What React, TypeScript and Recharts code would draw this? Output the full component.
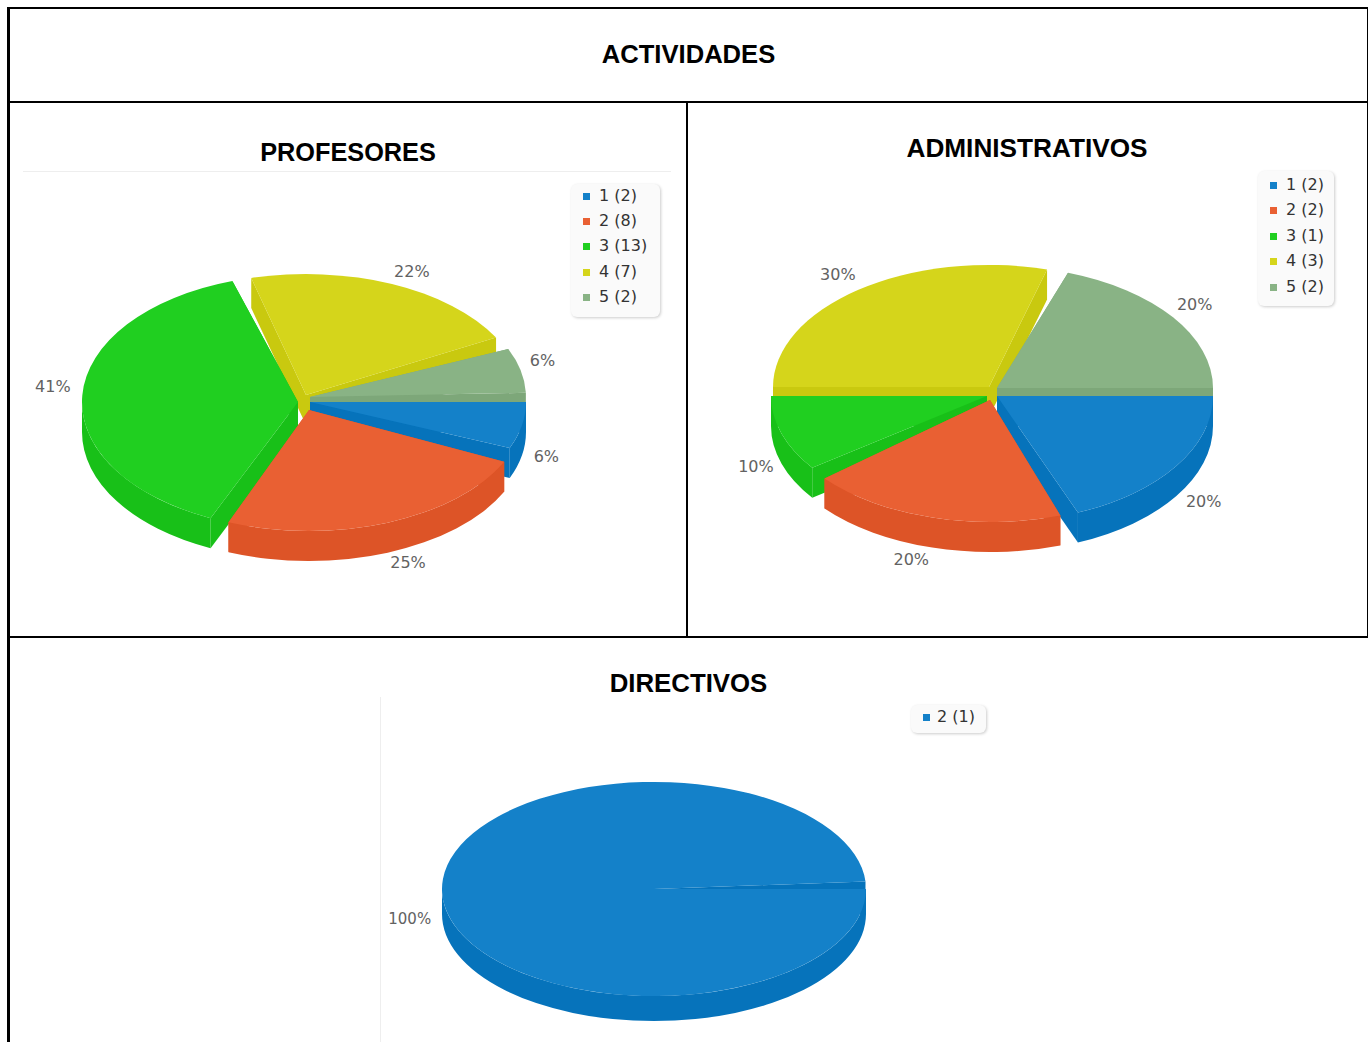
import React from "react";
import { PieChart, Pie, Legend } from "recharts";

const FONT = "'DejaVu Sans', sans-serif";
const TITLE_FONT = "'Liberation Sans', Arial, sans-serif";

const profNames = ["1", "2", "3", "4", "5"];
const profValues = [2, 8, 13, 7, 2];
const adminNames = ["1", "2", "3", "4", "5"];
const adminValues = [2, 2, 1, 3, 2];
const dirNames = ["2"];
const dirValues = [1];

const topColors = ["#1481c9", "#e96033", "#20cf20", "#d5d51b", "#89b385"];
const sideColors = ["#0673bb", "#dd5427", "#18c018", "#c9c90f", "#7da779"];
const sideGroups = [[3, 4], [2], [0, 1]];

type Cfg = {
  left: number; top: number; width: number; height: number;
  pageCx: number; pageCy: number; rx: number; ratio: number; depth: number; endAngle: number;
  offsets: number[][]; nudges: number[][]; angleTweaks: number[][]; ryScale: number[];
  names: string[]; values: number[];
  legend: { left: number; top: number; width: number; height: number; rowGap: number; padTop: number };
};

const panels: Cfg[] = [
  {
    left: 10, top: 103, width: 676, height: 532,
    pageCx: 310, pageCy: 402, rx: 216, ratio: 0.56, depth: 30, endAngle: -358,
    offsets: [[0, 0], [-1, 8], [-12, 0], [-4, -7], [0, -5]],
    nudges: [[-1, 13], [5, 13], [-4, -20], [-2, -17], [-3, -21]],
    angleTweaks: [[0, 0], [3, 0], [2, -5], [-2, -4], [1, 0]],
    ryScale: [1, 1, 1.05, 1, 1],
    names: profNames, values: profValues,
    legend: { left: 571, top: 184, width: 89, height: 133, rowGap: 25.2, padTop: 1 },
  },
  {
    left: 688, top: 103, width: 678, height: 532,
    pageCx: 997, pageCy: 398, rx: 216, ratio: 0.565, depth: 30, endAngle: -360,
    offsets: [[0, -2], [-7, 2], [-10, -2], [-8, -11], [0, -10]],
    nudges: [[11, 10], [-4, 15], [-1, 13], [-9, -17], [2, -18]],
    angleTweaks: [[0, -4], [-1, -4], [0, 0], [0, -2.4], [1.2, 0]],
    ryScale: [1.03, 1, 1, 1, 1],
    names: adminNames, values: adminValues,
    legend: { left: 1258, top: 171, width: 76, height: 135, rowGap: 25.4, padTop: 3 },
  },
  {
    left: 10, top: 638, width: 1356, height: 404,
    pageCx: 654, pageCy: 889, rx: 212, ratio: 0.505, depth: 25, endAngle: -356,
    offsets: [[0, 0]],
    nudges: [[-7, 13]],
    angleTweaks: [[0, 0]],
    ryScale: [1],
    names: dirNames, values: dirValues,
    legend: { left: 911, top: 705, width: 75, height: 28, rowGap: 25, padTop: 1 },
  },
];

const rad = (a: number) => (a * Math.PI) / 180;

function geometry(p: any, cfg: Cfg) {
  const i: number = p.index ?? 0;
  const off = cfg.offsets[i] || [0, 0];
  const tw = cfg.angleTweaks[i] || [0, 0];
  const cx = p.cx + off[0];
  const cy = p.cy + off[1];
  const rx = p.outerRadius;
  const ry = rx * cfg.ratio * (cfg.ryScale[i] ?? 1);
  const rawS = Math.min(-p.startAngle, -p.endAngle);
  const rawE = Math.max(-p.startAngle, -p.endAngle);
  const s = rawS + tw[0];
  const e = rawE + tw[1];
  const pt = (t: number, d = 0) => [cx + rx * Math.cos(rad(t)), cy + ry * Math.sin(rad(t)) + d];
  return { i, cx, cy, rx, ry, s, e, rawS, rawE, pt };
}

function makeSideShape(cfg: Cfg, group: number[]) {
  return (p: any) => {
    const { i, cx, cy, rx, ry, s, e, pt } = geometry(p, cfg);
    if (!group.includes(i)) return <g />;
    const d = cfg.depth;
    const fill = sideColors[i];
    const wall = (t: number) => {
      const q = pt(t);
      return `M${cx},${cy}L${q[0]},${q[1]}L${q[0]},${q[1] + d}L${cx},${cy + d}Z`;
    };
    const a = Math.max(s, 0);
    const b = Math.min(e, 180);
    let rim = "";
    if (b > a) {
      const p1 = pt(a);
      const p2 = pt(b);
      rim = `M${p1[0]},${p1[1]}A${rx},${ry} 0 0 1 ${p2[0]},${p2[1]}L${p2[0]},${p2[1] + d}A${rx},${ry} 0 0 0 ${p1[0]},${p1[1] + d}Z`;
    }
    return (
      <g>
        <path d={wall(s)} fill={fill} />
        <path d={wall(e)} fill={fill} />
        {rim ? <path d={rim} fill={fill} /> : null}
      </g>
    );
  };
}

function makeTopShape(cfg: Cfg) {
  return (p: any) => {
    const { i, cx, cy, rx, ry, s, e, pt } = geometry(p, cfg);
    const p1 = pt(s);
    const p2 = pt(e);
    const large = e - s > 180 ? 1 : 0;
    return (
      <path
        d={`M${cx},${cy}L${p1[0]},${p1[1]}A${rx},${ry} 0 ${large} 1 ${p2[0]},${p2[1]}Z`}
        fill={topColors[i]}
      />
    );
  };
}

function makeLabel(cfg: Cfg) {
  return (p: any) => {
    const { i, cx, cy, rx, rawS, rawE } = geometry(p, cfg);
    const ry = rx * cfg.ratio;
    const m = (rawS + rawE) / 2;
    const n = cfg.nudges[i] || [0, 0];
    const x = cx + 1.12 * rx * Math.cos(rad(m)) + n[0];
    const y = cy + 1.12 * ry * Math.sin(rad(m)) + cfg.depth / 2 + n[1];
    const total = cfg.values.reduce((acc, v) => acc + v, 0);
    const pct = Math.round((cfg.values[i] / total) * 100);
    return (
      <text x={x} y={y} textAnchor="middle" dominantBaseline="central" fontFamily={FONT} fontSize={pct === 100 ? 15 : 16} fill="#626262">
        {pct}%
      </text>
    );
  };
}

function LegendBox({ cfg }: { cfg: Cfg }) {
  const lg = cfg.legend;
  const single = cfg.names.length === 1;
  return (
    <div
      style={{
        width: lg.width, height: lg.height, background: "#fafafa", borderRadius: 6,
        boxShadow: "1px 1px 3px rgba(0,0,0,0.2)", position: "relative", fontFamily: FONT, fontSize: 16, color: "#333",
      }}
    >
      {cfg.names.map((n, i) => (
        <div key={n} style={{ position: "absolute", left: 0, top: lg.padTop + i * lg.rowGap, height: 22, lineHeight: "22px", whiteSpace: "nowrap" }}>
          <span style={{ position: "absolute", left: 12, top: 8, width: 7, height: 7, background: topColors[i] }} />
          <span style={{ position: "absolute", left: single ? 26 : 28, top: 0 }}>
            {n} ({cfg.values[i]})
          </span>
        </div>
      ))}
    </div>
  );
}

function Panel({ cfg }: { cfg: Cfg }) {
  const data = cfg.names.map((name, i) => ({ name, value: cfg.values[i] }));
  const top = makeTopShape(cfg);
  const label = makeLabel(cfg);
  const lg = cfg.legend;
  const common = {
    data, dataKey: "value", nameKey: "name",
    cx: cfg.pageCx - cfg.left, cy: cfg.pageCy - cfg.top,
    innerRadius: 0, outerRadius: cfg.rx,
    startAngle: 0, endAngle: cfg.endAngle,
    stroke: "none", isAnimationActive: false,
  };
  return (
    <div style={{ position: "absolute", left: cfg.left, top: cfg.top }}>
      <PieChart width={cfg.width} height={cfg.height} margin={{ top: 0, right: 0, bottom: 0, left: 0 }}>
        {sideGroups.map((g, k) => (
          <Pie key={k} {...common} shape={makeSideShape(cfg, g)} />
        ))}
        <Pie {...common} shape={top} label={label} labelLine={false} />
        <Legend
          content={() => <LegendBox cfg={cfg} />}
          wrapperStyle={{ left: lg.left - cfg.left, top: lg.top - cfg.top, width: lg.width, height: lg.height }}
        />
      </PieChart>
    </div>
  );
}

const titleStyle: React.CSSProperties = {
  position: "absolute", fontFamily: TITLE_FONT, fontWeight: 700, color: "#000",
  transform: "translateX(-50%)", whiteSpace: "nowrap", lineHeight: "30px",
};
const rule = (left: number, top: number, width: number, height: number, color = "#000"): React.CSSProperties => ({
  position: "absolute", left, top, width, height, background: color,
});

export default function App() {
  return (
    <div style={{ position: "absolute", left: 0, top: 0, width: 1368, height: 1042, overflow: "hidden", background: "#fff" }}>
      <div style={rule(7, 7, 1361, 2)} />
      <div style={rule(7, 7, 3, 1035)} />
      <div style={rule(1367, 7, 1, 631)} />
      <div style={rule(8, 101, 1360, 2)} />
      <div style={rule(686, 101, 2, 536)} />
      <div style={rule(8, 636, 1360, 2)} />
      <div style={rule(23, 171, 648, 1, "#eeeeee")} />
      <div style={rule(380, 697, 1, 345, "#eeeeee")} />
      {panels.map((c, i) => (
        <Panel key={i} cfg={c} />
      ))}
      <div style={{ ...titleStyle, fontSize: 25.6, left: 688.5, top: 39 }}>ACTIVIDADES</div>
      <div style={{ ...titleStyle, fontSize: 25.3, left: 348, top: 137 }}>PROFESORES</div>
      <div style={{ ...titleStyle, fontSize: 26.2, left: 1027, top: 133 }}>ADMINISTRATIVOS</div>
      <div style={{ ...titleStyle, fontSize: 25.8, left: 688.5, top: 668 }}>DIRECTIVOS</div>
    </div>
  );
}
